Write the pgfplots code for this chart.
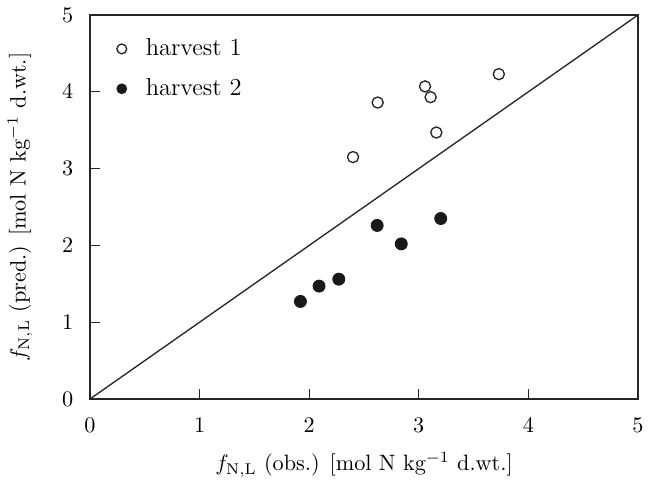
\documentclass[border=0pt]{standalone}
\usepackage{pgfplots}
\pgfplotsset{compat=1.18}
\begin{document}
\begin{tikzpicture}
\path[use as bounding box] (-40.5pt,-36.45pt) rectangle (253.35pt,179.55pt);
\begin{axis}[
  scale only axis,
  width=246.6pt, height=172.8pt,
  xmin=0, xmax=5, ymin=0, ymax=5,
  xtick={0,1,2,3,4,5}, ytick={0,1,2,3,4,5},
  tick align=inside,
  xtick pos=left, ytick pos=left,
  major tick length=4.5pt,
  axis line style={line width=0.5pt, black!85},
  tick style={line width=0.5pt, black!85},
  xticklabel style={yshift=-5pt},
  yticklabel style={xshift=-4pt},
  xlabel={$f_{\mathrm{N,L}}$ (obs.) [mol N kg$^{-1}$ d.wt.]},
  ylabel={$f_{\mathrm{N,L}}$ (pred.) [mol N kg$^{-1}$ d.wt.]},
  xlabel style={at={(axis description cs:0.5,-0.172)}, anchor=center},
  ylabel style={at={(axis description cs:-0.128,0.5)}, anchor=center},
  legend image code/.code={\draw[#1, mark size=2.2pt] plot coordinates {(0pt,0pt)}; \path (-3pt,-2pt) (8.5pt,2pt);},
  legend style={draw=none, fill=none, inner sep=0pt, at={(axis description cs:0,1)}, anchor=north west,
     xshift=10.8pt, yshift=-8.5pt, row sep=4.8pt, font=\fontsize{11}{13}\selectfont},
  legend cell align=left,
]
\addplot[only marks, mark=o, mark size=2.5pt, line width=0.6pt, black!85] coordinates {
  (2.40,3.15) (2.625,3.86) (3.057,4.07) (3.108,3.93) (3.16,3.47) (3.73,4.23)
};
\addlegendentry{harvest 1}
\addplot[only marks, mark=*, mark size=2.7pt, black!90, fill=black!90] coordinates {
  (1.92,1.27) (2.09,1.47) (2.27,1.56) (2.62,2.26) (2.84,2.02) (3.20,2.35)
};
\addlegendentry{harvest 2}
\addplot[no marks, line width=0.6pt, black!85, forget plot] coordinates {(0,0) (5,5)};
\end{axis}
\end{tikzpicture}
\end{document}
